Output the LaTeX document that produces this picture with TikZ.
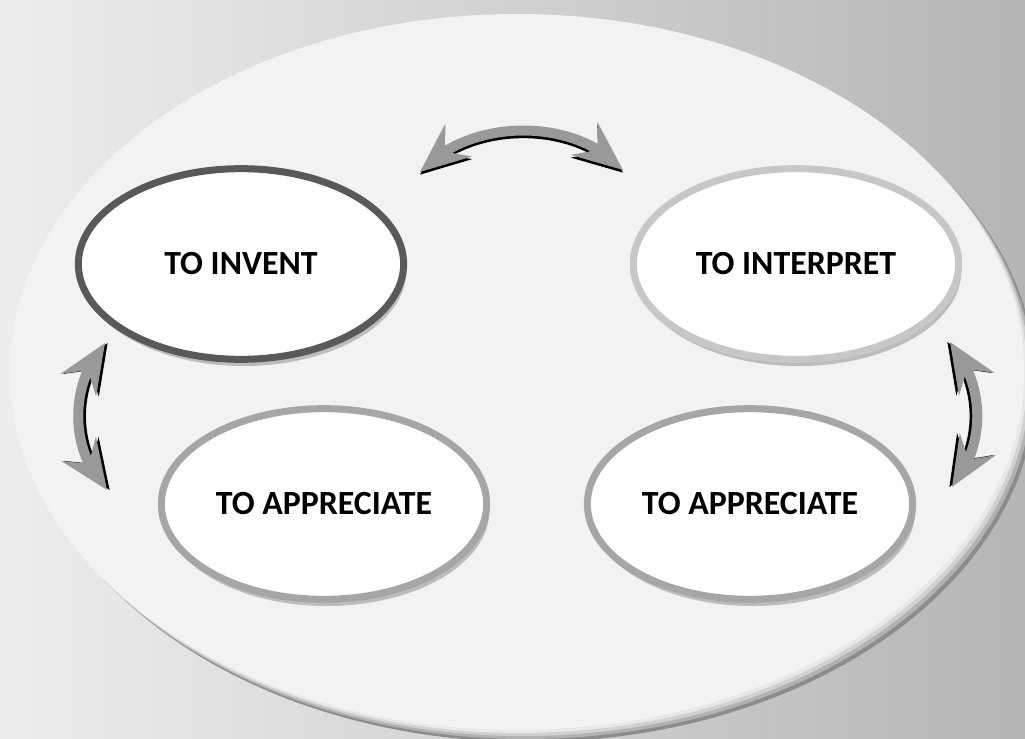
\documentclass[tikz,border=0pt]{standalone}
\usepackage{fontspec}
\setmainfont{Carlito}
\usetikzlibrary{shapes.geometric,arrows.meta,bending,shadows}

\definecolor{arrowgray}{HTML}{999999}
\tikzset{
  bubble/.style={ellipse, fill=white, line width=5.25pt, minimum width=244pt, minimum height=143pt, inner sep=0pt,
    font=\fontsize{25.4}{30}\selectfont\bfseries,
    drop shadow={shadow xshift=2pt, shadow yshift=-5pt, fill=black, opacity=0.22}},
  twoway/.style={line width=7.5pt, draw=arrowgray,
    {Stealth[length=37pt,width=31pt,inset=13pt,flex]}-{Stealth[length=37pt,width=31pt,inset=13pt,flex]}}
}

\begin{document}
\begin{tikzpicture}[x=0.75pt,y=0.75pt,yscale=-1,xscale=1]
\path[use as bounding box] (0,0) rectangle (1025,739);

%Background
\shade[left color=black!7, right color=black!29] (0,0) rectangle (1025,739);

%Shape: Big ellipse with rim
\foreach \d/\s in {12/45,9/30,6/18,3/9}
  \fill[black!\s] ({517+\d},{372+\d}) ellipse [x radius=507, y radius=358];
\fill[black!5] (517,372) ellipse [x radius=507, y radius=358];

% Text Nodes
\node[bubble, draw=black!65] (invent) at (241,264) {TO INVENT};
\node[bubble, draw=black!22] (interpret) at (796,264) {TO INTERPRET};
\node[bubble, draw=black!35] (appreciateL) at (324,504) {TO APPRECIATE};
\node[bubble, draw=black!35] (appreciateR) at (750,504) {TO APPRECIATE};

% Arrow ends
\coordinate (topL) at (420,172);
\coordinate (topR) at (623,170);
\coordinate (leftT) at (105,343);
\coordinate (leftB) at (107,490);
\coordinate (rightT) at (950,342);
\coordinate (rightB) at (952,487);

%Curve Lines
\draw[twoway, draw=black, transform canvas={yshift=-2pt}] (topL) .. controls (470,117) and (575,117) .. (topR);
\draw[twoway] (topL) .. controls (470,117) and (575,117) .. (topR);
\draw[twoway, draw=black, transform canvas={xshift=2pt}] (leftT) .. controls (69,385) and (69,450) .. (leftB);
\draw[twoway] (leftT) .. controls (69,385) and (69,450) .. (leftB);
\draw[twoway, draw=black, transform canvas={xshift=-2pt}] (rightT) .. controls (986,385) and (986,445) .. (rightB);
\draw[twoway] (rightT) .. controls (986,385) and (986,445) .. (rightB);

\end{tikzpicture}
\end{document}
